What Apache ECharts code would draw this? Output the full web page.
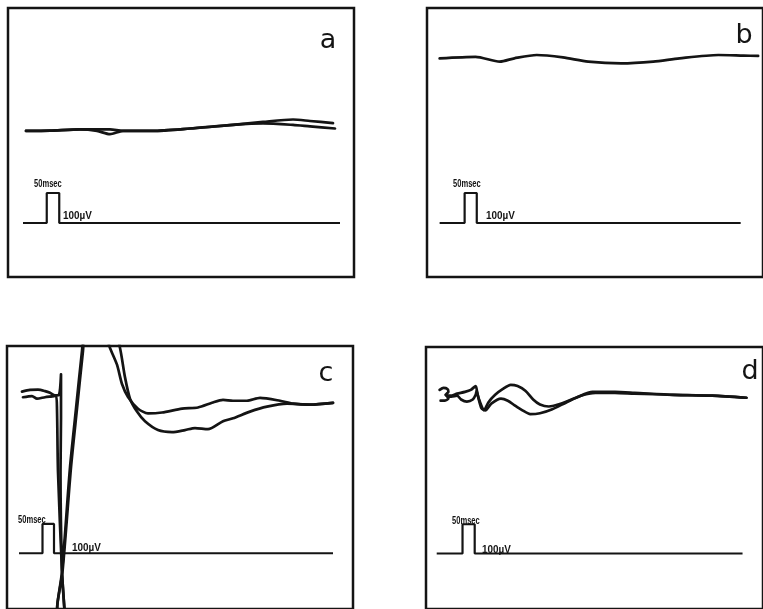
<!DOCTYPE html>
<html>
<head>
<meta charset="utf-8">
<script src="https://cdn.jsdelivr.net/npm/echarts@6/dist/echarts.min.js"></script>
<style>
html,body{margin:0;padding:0;background:#fff;}
#chart{width:763px;height:609px;}
</style>
</head>
<body>
<div id="chart"></div>
<script>
// Time in ms, potential in µV (0 µV = calibration baseline of each panel)
const panelLabels = ['a', 'b', 'c', 'd'];
const calibTextTime = '50msec';
const calibTextVolt = '100\u00b5V';

// Calibration pulses: [ms, µV]
const calibA = [[60,0],[155,0],[155,100],[205,100],[205,0],[1328,0]];
const calibB = [[52,0],[155,0],[155,100],[205,100],[205,0],[1292,0]];
const calibC = [[48,0],[142,0],[142,100],[188,100],[188,0],[1304,0]];
const calibD = [[44,0],[150,0],[150,100],[200,100],[200,0],[1300,0]];

// Panel a: two superimposed traces
const traceA1 = [[72,307],[168,308],[288,312],[356,312],[408,312],[460,307],[580,307],[728,315],[900,327],[1020,337],[1140,345],[1208,340],[1300,333]];
const traceA2 = [[72,307],[168,308],[288,312],[356,307],[408,296],[460,307],[580,307],[728,315],[900,327],[1020,332],[1140,327],[1208,322],[1308,315]];

// Panel b: single trace
const traceB1 = [[52,549],[200,554],[300,538],[360,549],[452,560],[560,552],[664,538],[800,532],[932,538],[1040,549],[1200,560],[1304,558],[1364,557]];

// Panel c: two traces with stimulus artefact and large response
const traceC1 = [[60,551],[92,557],[124,558],[152,553],[172,547],[192,538],[208,540],[216,610],[216,460],[214,277],[220,-63],[228,-170],[236,-273],[216,-307],[200,-223],[202,-170],[220,-63],[252,293],[276,493],[300,690],[316,793],[372,793],[412,700],[440,643],[460,577],[484,533],[524,493],[564,477],[620,480],[700,493],[764,497],[820,513],[864,523],[904,520],[960,520],[1012,530],[1092,520],[1144,510],[1212,507],[1304,513]];
const traceC2 = [[64,532],[100,536],[120,527],[152,532],[180,535],[196,537],[200,490],[204,277],[220,-63],[228,-170],[236,-273],[216,-307],[200,-223],[202,-170],[222,-63],[256,293],[280,493],[304,690],[320,793],[420,793],[452,700],[472,600],[492,527],[520,483],[552,450],[604,420],[660,413],[712,420],[752,427],[804,423],[864,450],[904,460],[972,483],[1040,500],[1120,510],[1212,507],[1304,513]];

// Panel d: two traces
const traceD1 = [[56,560],[72,567],[88,563],[92,553],[80,543],[100,540],[128,547],[160,553],[184,560],[204,573],[212,543],[224,513],[238,490],[256,517],[284,543],[316,563],[348,577],[376,573],[408,557],[440,527],[468,510],[504,503],[556,513],[616,533],[684,553],[776,553],[856,550],[1016,543],[1176,540],[1316,533]];
const traceD2 = [[60,523],[76,523],[92,530],[84,540],[104,537],[128,540],[144,527],[168,520],[192,527],[204,543],[208,557],[216,530],[228,497],[244,490],[268,513],[308,530],[336,523],[364,507],[396,490],[428,477],[468,480],[516,493],[576,517],[636,540],[696,550],[776,550],[856,547],[1016,543],[1176,540],[1316,533]];

const X_MAX = 1384;
const ink = '#141414';
const grids = [
  {left:8, top:8, width:346, height:269},
  {left:427, top:8, width:346, height:269},
  {left:7, top:346, width:346, height:269},
  {left:426, top:347, width:346, height:269}
];
const yRanges = [[-180, 716.67], [-180, 716.67], [-190, 706.67], [-190, 706.67]];
const calibs = [calibA, calibB, calibC, calibD];
const traces = [[traceA1, traceA2], [traceB1], [traceC1, traceC2], [traceD1, traceD2]];

const option = {
  animation: false,
  backgroundColor: '#ffffff',
  grid: grids.map(g => Object.assign({show: true, borderColor: ink, borderWidth: 2.5, backgroundColor: 'transparent'}, g)),
  xAxis: grids.map((g, i) => ({type: 'value', gridIndex: i, min: 0, max: X_MAX, show: false})),
  yAxis: grids.map((g, i) => ({type: 'value', gridIndex: i, min: yRanges[i][0], max: yRanges[i][1], show: false})),
  series: [],
  graphic: []
};

calibs.forEach((c, i) => {
  option.series.push({type: 'line', xAxisIndex: i, yAxisIndex: i, data: c, showSymbol: false, clip: true,
    lineStyle: {color: ink, width: 2.2}});
});
traces.forEach((ts, i) => {
  ts.forEach(t => {
    option.series.push({type: 'line', xAxisIndex: i, yAxisIndex: i, data: t, showSymbol: false, clip: true,
      smooth: 0.25, lineStyle: {color: ink, width: 2.7, cap: 'round', join: 'round'}});
  });
});

const letterPos = [[328, 41], [744, 36], [326, 374], [750, 372]];
const msPos = [[34, 184], [453, 184], [18, 520], [452, 521]];
const uvPos = [[63, 216], [486, 216], [72, 548], [482, 550]];
const smallFont = '"Liberation Sans", Arial, sans-serif';
panelLabels.forEach((lab, i) => {
  option.graphic.push({type: 'text', x: letterPos[i][0], y: letterPos[i][1],
    style: {text: lab, fill: ink, font: '27px "DejaVu Sans", sans-serif', textAlign: 'center', textVerticalAlign: 'middle'}});
  option.graphic.push({type: 'text', x: msPos[i][0], y: msPos[i][1], scaleX: 0.72,
    style: {text: calibTextTime, fill: ink, font: 'bold 10.5px ' + smallFont, textAlign: 'left', textVerticalAlign: 'middle'}});
  option.graphic.push({type: 'text', x: uvPos[i][0], y: uvPos[i][1], scaleX: 0.9,
    style: {text: calibTextVolt, fill: ink, font: 'bold 11px ' + smallFont, textAlign: 'left', textVerticalAlign: 'middle'}});
});

const chart = echarts.init(document.getElementById('chart'), null, {renderer: 'canvas'});
chart.setOption(option);
</script>
</body>
</html>
